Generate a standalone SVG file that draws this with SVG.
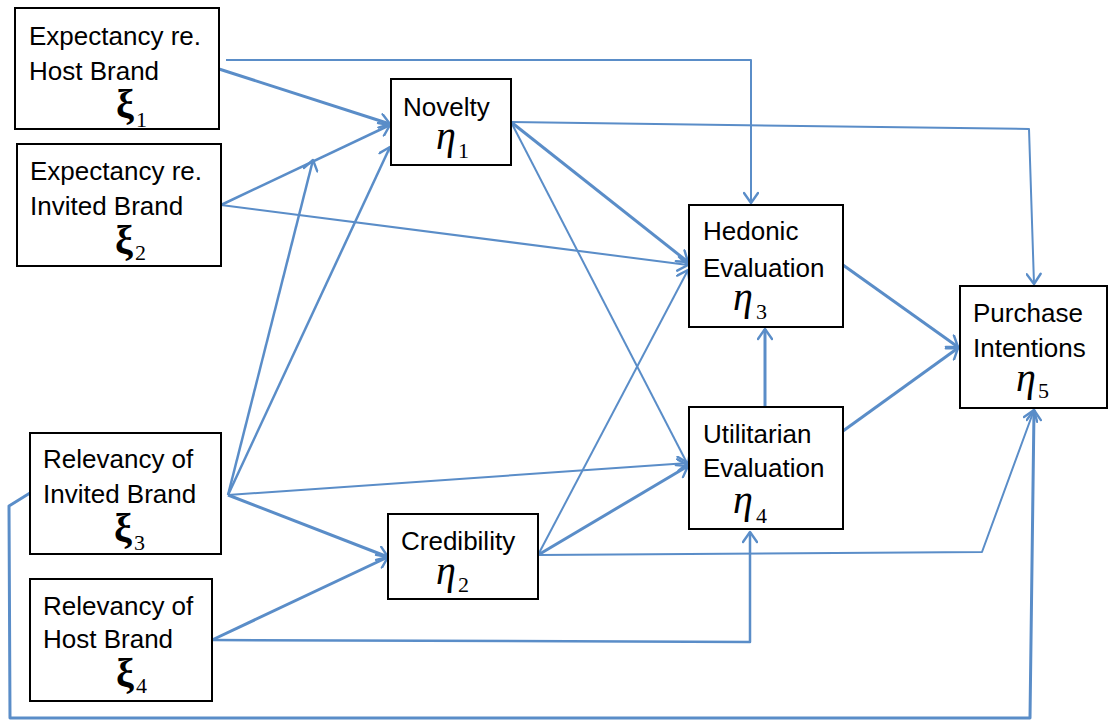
<svg xmlns="http://www.w3.org/2000/svg" width="1109" height="722" viewBox="0 0 1109 722">
<style>
.box{fill:#fff;stroke:#000;stroke-width:2}
.lbl{font-family:"Liberation Sans",Arial,sans-serif;font-size:26px;fill:#000}
.xi{font-family:"Liberation Serif","Times New Roman",serif;font-size:40px;font-weight:bold;fill:#000}
.eta{font-family:"Liberation Serif","Times New Roman",serif;font-size:40px;font-style:italic;fill:#000}
.sub{font-family:"Liberation Serif","Times New Roman",serif;font-size:22px;fill:#000}
.c{fill:none;stroke:#5A8DC8;stroke-width:2;stroke-linejoin:round;marker-end:url(#arr)}
.t{stroke-width:3}
</style>
<defs>
<marker id="arr" markerUnits="userSpaceOnUse" markerWidth="14" markerHeight="16" viewBox="0 0 14 16" refX="12" refY="8" orient="auto">
<path d="M2,1 L12,8 L2,15" fill="none" stroke="#5A8DC8" stroke-width="2.4" stroke-linecap="round" stroke-linejoin="round"/>
</marker>
</defs>
<rect width="1109" height="722" fill="#fff"/>
<g id="connectors">
<path class="c" d="M226,60 H751 V203"/>
<path class="c t" d="M219,69 L390,124"/>
<path class="c" style="stroke-width:2.5" d="M221,205 L390,125"/>
<path class="c" d="M221,205 L688,265"/>
<path class="c" style="stroke-width:2.5" d="M228,495 L313,160"/>
<path class="c" style="stroke-width:2.5" d="M228,495 L390,147"/>
<path class="c" d="M228,495 L688,463"/>
<path class="c t" d="M228,495 L388,557"/>
<path class="c t" d="M30,493 L9,506 L10,718 L1030,718 L1034,410"/>
<path class="c t" d="M212,640 L388,557"/>
<path class="c" style="stroke-width:2.5" d="M212,640 L750,642 L750,532"/>
<path class="c" d="M511,122 L1029,129 L1034,284"/>
<path class="c t" d="M511,122 L688,262"/>
<path class="c" d="M511,122 L688,465"/>
<path class="c" d="M538,555 L688,270"/>
<path class="c t" d="M538,555 L688,466"/>
<path class="c" d="M538,555 L982,552 L1034,410"/>
<path class="c t" d="M843,265 L958,347"/>
<path class="c t" d="M843,431 L958,348"/>
<path class="c t" d="M765,407 V329"/>
</g>
<g id="xi1">
<rect class="box" x="15" y="8" width="204" height="121"/>
<text class="lbl" x="29" y="45">Expectancy re.</text>
<text class="lbl" x="29" y="80">Host Brand</text>
<text class="xi" x="116" y="117">ξ</text><text class="sub" x="136" y="127">1</text>
</g>
<g id="xi2">
<rect class="box" x="17" y="144" width="204" height="122"/>
<text class="lbl" x="30" y="180">Expectancy re.</text>
<text class="lbl" x="30" y="215">Invited Brand</text>
<text class="xi" x="115" y="253">ξ</text><text class="sub" x="135" y="260">2</text>
</g>
<g id="xi3">
<rect class="box" x="30" y="433" width="191" height="121"/>
<text class="lbl" x="43" y="468">Relevancy of</text>
<text class="lbl" x="43" y="503">Invited Brand</text>
<text class="xi" x="114" y="541">ξ</text><text class="sub" x="134" y="550">3</text>
</g>
<g id="xi4">
<rect class="box" x="30" y="579" width="182" height="122"/>
<text class="lbl" x="43" y="615">Relevancy of</text>
<text class="lbl" x="43" y="648">Host Brand</text>
<text class="xi" x="116" y="686">ξ</text><text class="sub" x="136" y="693">4</text>
</g>
<g id="eta1">
<rect class="box" x="391" y="79" width="120" height="86"/>
<text class="lbl" x="403" y="116">Novelty</text>
<text class="eta" x="436" y="149">η</text><text class="sub" x="458" y="158">1</text>
</g>
<g id="eta2">
<rect class="box" x="388" y="514" width="150" height="85"/>
<text class="lbl" x="401" y="550">Credibility</text>
<text class="eta" x="436" y="584">η</text><text class="sub" x="458" y="592">2</text>
</g>
<g id="eta3">
<rect class="box" x="689" y="205" width="154" height="122"/>
<text class="lbl" x="703" y="240">Hedonic</text>
<text class="lbl" x="703" y="277">Evaluation</text>
<text class="eta" x="733" y="310">η</text><text class="sub" x="756" y="319">3</text>
</g>
<g id="eta4">
<rect class="box" x="689" y="407" width="154" height="122"/>
<text class="lbl" x="703" y="443">Utilitarian</text>
<text class="lbl" x="703" y="477">Evaluation</text>
<text class="eta" x="733" y="513">η</text><text class="sub" x="756" y="523">4</text>
</g>
<g id="eta5">
<rect class="box" x="960" y="286" width="147" height="122"/>
<text class="lbl" x="973" y="322">Purchase</text>
<text class="lbl" x="973" y="357">Intentions</text>
<text class="eta" x="1016" y="391">η</text><text class="sub" x="1038" y="398">5</text>
</g>
</svg>
